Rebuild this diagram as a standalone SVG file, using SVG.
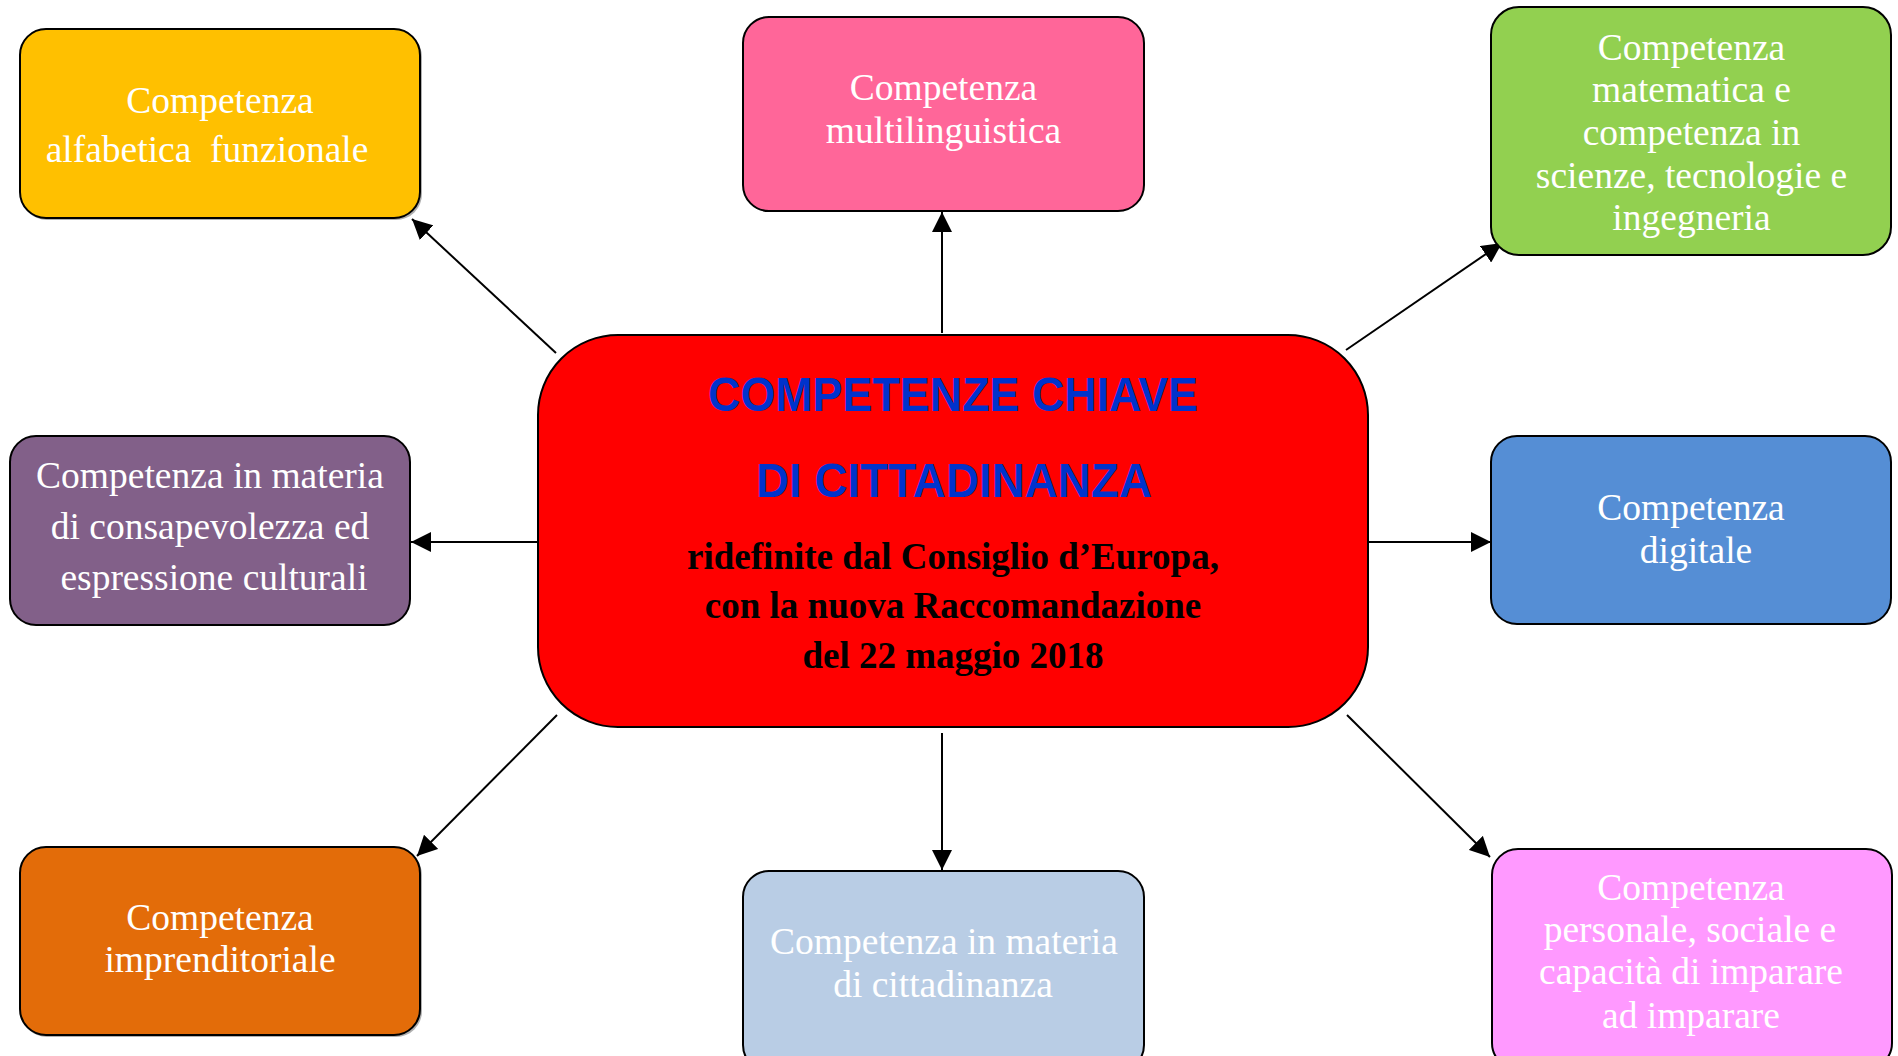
<svg xmlns="http://www.w3.org/2000/svg" width="1898" height="1056" viewBox="0 0 1898 1056">
<style>
.box{stroke:#000;stroke-width:2}
.shadow{fill:#b0b0b0}
.lbl{font-family:"Liberation Serif","Times New Roman",serif;font-size:37.5px;fill:#fff;text-anchor:middle;white-space:pre}
.title{font-family:"Liberation Sans",Arial,sans-serif;font-weight:bold;font-size:48px;fill:#0033CC;text-anchor:middle}
.sub{font-family:"Liberation Serif","Times New Roman",serif;font-weight:bold;font-size:37px;fill:#000;text-anchor:middle}
.conn line{stroke:#000;stroke-width:2;marker-end:url(#arrow)}
</style>
<defs>
<marker id="arrow" markerUnits="userSpaceOnUse" markerWidth="20" markerHeight="20" refX="20" refY="10" orient="auto">
<path d="M0,0 L20,10 L0,20 z" fill="#000"/>
</marker>
</defs>
<rect width="1898" height="1056" fill="#fff"/>

<g id="connectors" class="conn">
<line x1="556" y1="353" x2="412" y2="219"/>
<line x1="942" y1="333" x2="942" y2="212"/>
<line x1="1346" y1="350" x2="1502" y2="243"/>
<line x1="537" y1="542" x2="411" y2="542"/>
<line x1="1368" y1="542" x2="1491" y2="542"/>
<line x1="557" y1="715" x2="417" y2="856"/>
<line x1="942" y1="733" x2="942" y2="870"/>
<line x1="1347" y1="715" x2="1490" y2="857"/>
</g>

<g id="center">
<rect class="box" x="538" y="335" width="830" height="392" rx="80" ry="80" fill="#FF0000"/>
<text class="title" x="953" y="411" textLength="490" lengthAdjust="spacingAndGlyphs">COMPETENZE CHIAVE</text>
<text class="title" x="954" y="497" textLength="396" lengthAdjust="spacingAndGlyphs">DI CITTADINANZA</text>
<text class="sub" x="953" y="569">ridefinite dal Consiglio d’Europa,</text>
<text class="sub" x="953" y="618">con la nuova Raccomandazione</text>
<text class="sub" x="953" y="668">del 22 maggio 2018</text>
</g>

<g id="n-alfabetica">
<rect class="shadow" x="21" y="31" width="401" height="189" rx="26"/>
<rect class="box" x="20" y="29" width="400" height="189" rx="26" fill="#FFC000"/>
<text class="lbl" x="220" y="113">Competenza</text>
<text class="lbl" x="207" y="162">alfabetica  funzionale</text>
</g>

<g id="n-multilinguistica">
<rect class="box" x="743" y="17" width="401" height="194" rx="26" fill="#FF6699"/>
<text class="lbl" x="943.5" y="100">Competenza</text>
<text class="lbl" x="943.5" y="143">multilinguistica</text>
</g>

<g id="n-matematica">
<rect class="box" x="1491" y="7" width="400" height="248" rx="28" fill="#92D050"/>
<text class="lbl" x="1691.5" y="60">Competenza</text>
<text class="lbl" x="1691.5" y="102">matematica e</text>
<text class="lbl" x="1691.5" y="145">competenza in</text>
<text class="lbl" x="1691.5" y="188">scienze, tecnologie e</text>
<text class="lbl" x="1691.5" y="230">ingegneria</text>
</g>

<g id="n-culturale">
<rect class="box" x="10" y="436" width="400" height="189" rx="26" fill="#826089"/>
<text class="lbl" x="210" y="488">Competenza in materia</text>
<text class="lbl" x="210" y="539">di consapevolezza ed</text>
<text class="lbl" x="214" y="590">espressione culturali</text>
</g>

<g id="n-digitale">
<rect class="box" x="1491" y="436" width="400" height="188" rx="26" fill="#558ED5"/>
<text class="lbl" x="1691" y="520">Competenza</text>
<text class="lbl" x="1696" y="563">digitale</text>
</g>

<g id="n-imprenditoriale">
<rect class="shadow" x="21" y="849" width="401" height="188" rx="26"/>
<rect class="box" x="20" y="847" width="400" height="188" rx="26" fill="#E36C09"/>
<text class="lbl" x="220" y="930">Competenza</text>
<text class="lbl" x="220" y="972">imprenditoriale</text>
</g>

<g id="n-cittadinanza">
<rect class="box" x="743" y="871" width="401" height="200" rx="26" fill="#B9CDE5"/>
<text class="lbl" x="944" y="954">Competenza in materia</text>
<text class="lbl" x="943" y="997">di cittadinanza</text>
</g>

<g id="n-personale">
<rect class="box" x="1492" y="849" width="400" height="220" rx="26" fill="#FF99FF"/>
<text class="lbl" x="1691" y="900">Competenza</text>
<text class="lbl" x="1690" y="942">personale, sociale e</text>
<text class="lbl" x="1691" y="984">capacità di imparare</text>
<text class="lbl" x="1691" y="1028">ad imparare</text>
</g>
</svg>
